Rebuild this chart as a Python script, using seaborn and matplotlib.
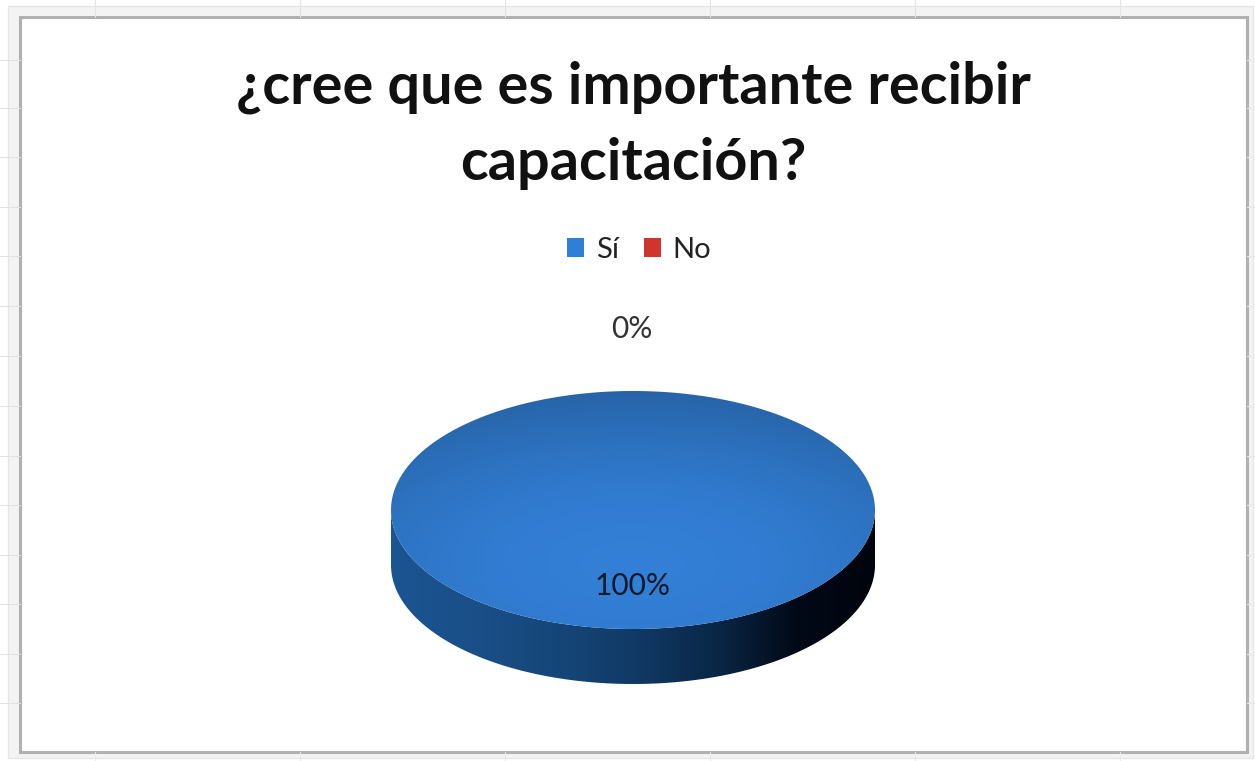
import numpy as np
import matplotlib
matplotlib.use('Agg')
import matplotlib.pyplot as plt
from matplotlib.patches import Rectangle, Polygon
import seaborn as sns

# Data
categories = ['Sí', 'No']
values = [100, 0]
title_lines = ['¿cree que es importante recibir', 'capacitación?']

W, H = 1255, 761
colors = ['#2f7ed8', '#d0342c']

sns.set_theme(style='white')
plt.rcParams['font.family'] = ['Lato', 'DejaVu Sans']

fig = plt.figure(figsize=(W / 100, H / 100), dpi=100, facecolor='white')

# Background axes in pixel coordinates: the spreadsheet frame around the chart
bg = fig.add_axes([0, 0, 1, 1])
bg.set_xlim(0, W)
bg.set_ylim(H, 0)
bg.axis('off')

bg.add_patch(Rectangle((8, 6), 1245, 752, fc='#f3f3f3', ec='#e6e6e6', lw=1))
for x in [95, 300, 505, 710, 915, 1120]:
    bg.plot([x, x], [0, 17], color='#e2e2e2', lw=0.8)
    bg.plot([x, x], [752, H], color='#e8e8e8', lw=0.8)
for y in [60, 108, 157, 207, 256, 306, 356, 406, 456, 505, 555, 604, 654, 703]:
    bg.plot([0, 20], [y, y], color='#e2e2e2', lw=0.8)
    bg.plot([1247, W], [y, y], color='#e8e8e8', lw=0.8)
bg.add_patch(Rectangle((20, 17), 1227, 735, fc='white', ec='#b0b0b0', lw=2.2))

# Title
for text, y in zip(title_lines, [87, 164]):
    bg.text(633, y, text, ha='center', va='center', fontsize=41.5, fontweight='bold', color='#111111')

# Legend
legend_handles = [Rectangle((0, 0), 1, 1, fc=c, ec='none') for c in colors]
leg = bg.legend(legend_handles, categories, loc='center', bbox_to_anchor=(639 / W, 1 - 250 / H),
                ncol=2, frameon=False, fontsize=21, handlelength=0.6, handleheight=0.6,
                handletextpad=0.4, columnspacing=0.85, labelcolor='#222222')

# Pie axes: flattened by letting the aspect go, with room under it for the side
cx, cy, rx, ry, depth = 633, 510, 242, 119, 55
pie_ax = fig.add_axes([(cx - rx) / W, 1 - (cy + ry + depth) / H, 2 * rx / W, (2 * ry + depth) / H])
pie_ax.patch.set_alpha(0)
d = depth / ry

side_wedges, _ = pie_ax.pie(values, colors=colors, startangle=90, counterclock=False,
                            radius=1, center=(0, -d))
top_wedges, _ = pie_ax.pie(values, colors=colors, startangle=90, counterclock=False,
                           radius=1, center=(0, 0))
pie_ax.set_aspect('auto')
pie_ax.axis('off')

# Side of the disc, shaded from left to right
t = np.linspace(np.pi, 2 * np.pi, 200)
outline = np.vstack([np.column_stack([np.cos(t), np.sin(t) - d]),
                     np.column_stack([np.cos(t[::-1]), np.sin(t[::-1])])])
side_clip = Polygon(outline, closed=True, transform=pie_ax.transData, fc='none', ec='none')
pie_ax.add_patch(side_clip)
side_cmap = sns.blend_palette(['#1b5592', '#1a4f88', '#16477a', '#113a66', '#0a2848', '#020a18', '#00040c'],
                              as_cmap=True)
grad = np.linspace(0, 1, 256).reshape(1, -1)
side_im = pie_ax.imshow(grad, extent=(-1, 1, -1 - d, 1), cmap=side_cmap, aspect='auto', zorder=3)
side_im.set_clip_path(side_clip)

# Top of the disc, brighter towards the front
top_cmap = sns.blend_palette(['#3480d8', '#327dd3', '#2d73c2', '#2864a8'], as_cmap=True)
xx, yy = np.meshgrid(np.linspace(-1, 1, 300), np.linspace(-1, 1, 300))
shade = np.clip(np.sqrt((xx / 1.6) ** 2 + ((yy + 0.45) / 1.45) ** 2), 0, 1)
t2 = np.linspace(0, 2 * np.pi, 300)
top_clip = Polygon(np.column_stack([np.cos(t2), np.sin(t2)]), closed=True,
                   transform=pie_ax.transData, fc='none', ec='none')
pie_ax.add_patch(top_clip)
top_im = pie_ax.imshow(shade, extent=(-1, 1, -1, 1), origin='lower', cmap=top_cmap, aspect='auto',
                       vmin=0, vmax=1, zorder=4)
top_im.set_clip_path(top_clip)
pie_ax.set_xlim(-1, 1)
pie_ax.set_ylim(-1 - d, 1)

# Value labels
over = fig.add_axes([0, 0, 1, 1])
over.set_xlim(0, W)
over.set_ylim(H, 0)
over.axis('off')
over.patch.set_alpha(0)
label_pos = [(633, 586), (632, 329)]
for v, (x, y) in zip(values, label_pos):
    over.text(x, y, f'{v}%', ha='center', va='center', fontsize=21.5,
              color='#0c1a2a' if v else '#333333')

fig.savefig('out.png', dpi=100)
